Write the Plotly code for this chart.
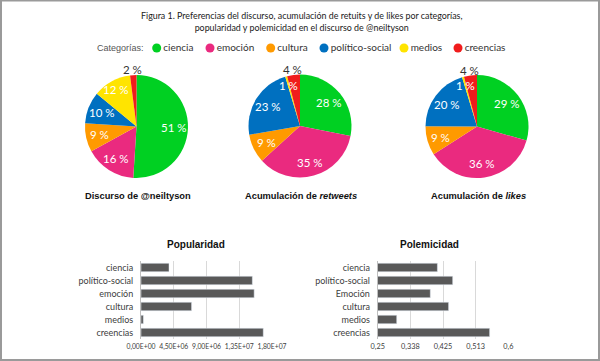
import math
import plotly.graph_objects as go

W, H = 600, 361

# ---- data ----
categories = ["ciencia", "emoción", "cultura", "político-social", "medios", "creencias"]
colors = ["#00d022", "#ea2a7f", "#ff9a00", "#0070c0", "#ffe400", "#f01c1c"]
discurso = [51, 16, 9, 10, 12, 2]
retweets = [28, 35, 9, 23, 0.6, 4]
likes = [29, 36, 9, 20, 0.6, 4]

pop_categories = ["ciencia", "político-social", "emoción", "cultura", "medios", "creencias"]
popularidad = [3.85e6, 15.3e6, 15.55e6, 6.95e6, 0.32e6, 16.8e6]
pop_tickvals = [0, 4.5e6, 9.0e6, 1.35e7, 1.8e7]
pop_ticktext = ["0,00E+00", "4,50E+06", "9,00E+06", "1,35E+07", "1,80E+07"]

pol_categories = ["ciencia", "político-social", "Emoción", "cultura", "medios", "creencias"]
polemicidad = [0.410, 0.451, 0.391, 0.440, 0.301, 0.550]
pol_tickvals = [0.25, 0.3375, 0.425, 0.5125, 0.6]
pol_ticktext = ["0,25", "0,338", "0,425", "0,513", "0,6"]

pie_titles = ["<b>Discurso de @neiltyson</b>",
              "<b>Acumulación de <i>retweets</i></b>",
              "<b>Acumulación de <i>likes</i></b>"]

# ---- layout helpers (pixel -> paper) ----
def px(x):
    return x / W

def py(y):
    return 1 - y / H

pie_centers = [(136.5, 126.5), (300, 126), (477, 126.5)]
R = 51.5
# label radius (fraction of pie radius) per category; creencias label sits outside
label_r = [0.73, 0.73, 0.73, 0.73, 0.82, 1.1]

fig = go.Figure()
annotations = []

for vals, (cx, cy) in zip([discurso, retweets, likes], pie_centers):
    fig.add_trace(go.Pie(
        labels=categories, values=vals, sort=False, direction="clockwise",
        rotation=0, marker=dict(colors=colors, line=dict(width=0)),
        textinfo="none",
        domain=dict(x=[px(cx - R), px(cx + R)], y=[py(cy + R), py(cy - R)]),
        showlegend=False, hoverinfo="label+percent",
    ))
    total = sum(vals)
    cum = 0
    for v, fr in zip(vals, label_r):
        mid = (cum + v / 2) / total * 2 * math.pi
        cum += v
        lx = cx + R * fr * math.sin(mid)
        ly = cy - R * fr * math.cos(mid)
        outside = fr > 1
        annotations.append(dict(
            text=f"{v:.0f} %", x=px(lx), y=py(ly),
            font=dict(family="Lato", size=11.5,
                      color="#333333" if outside else "white")))

bar_color = "#595959"
fig.add_trace(go.Bar(x=popularidad, y=pop_categories, orientation="h",
                     marker=dict(color=bar_color), xaxis="x", yaxis="y",
                     showlegend=False))
fig.add_trace(go.Bar(x=polemicidad, y=pol_categories, orientation="h",
                     marker=dict(color=bar_color), xaxis="x2", yaxis="y2",
                     showlegend=False, base=0))

# legend built as marker+text on an overlay axis
legend_x = [156.7, 210, 270.7, 324, 404, 458]
legend_y = [48] * 6
fig.add_trace(go.Scatter(
    x=legend_x, y=legend_y, mode="markers+text", text=categories,
    textposition="middle right",
    textfont=dict(family="Lato", size=10, color="#333333"),
    marker=dict(color=colors, size=9),
    xaxis="x3", yaxis="y3", showlegend=False, cliponaxis=False, hoverinfo="skip"))

band_top, band_bot = 261, 339
axis_font = dict(family="Lato", size=9, color="#404040")

common_x = dict(showgrid=True, gridcolor="#d9d9d9", gridwidth=1, zeroline=False,
                tickangle=0, automargin=False, ticks="", ticklabelstandoff=2)
common_y = dict(domain=[py(band_bot), py(band_top)], autorange="reversed",
                type="category", tickfont=axis_font, showline=True,
                linecolor="#bfbfbf", linewidth=1, ticks="", automargin=False,
                ticklabelstandoff=5)

fig.update_layout(
    width=W, height=H, autosize=False,
    margin=dict(l=0, r=0, t=0, b=0, pad=0),
    paper_bgcolor="white", plot_bgcolor="rgba(0,0,0,0)",
    bargap=0.35, showlegend=False,
    xaxis=dict(domain=[px(141), px(272)], range=[0, 1.8e7],
               tickvals=pop_tickvals, ticktext=pop_ticktext, anchor="y",
               tickfont=dict(family="Lato", size=6.8, color="#404040"), **common_x),
    yaxis=dict(anchor="x", **common_y),
    xaxis2=dict(domain=[px(377.7), px(508.3)], range=[0.25, 0.6],
                tickvals=pol_tickvals, ticktext=pol_ticktext, anchor="y2",
                tickfont=dict(family="Lato", size=7.3, color="#404040"), **common_x),
    yaxis2=dict(anchor="x2", **common_y),
    xaxis3=dict(domain=[0, 1], range=[0, W], visible=False, anchor="y3",
                automargin=False),
    yaxis3=dict(domain=[0, 1], range=[H, 0], visible=False, anchor="x3",
                automargin=False),
)

annotations += [
    dict(text="Figura 1. Preferencias del discurso, acumulación de retuits y de likes por categorías,<br>"
              "popularidad y polemicidad en el discurso de @neiltyson",
         x=px(301), y=py(21.5), font=dict(family="Lato", size=8.9, color="#1a1a1a")),
    dict(text="Categorías:", x=px(95), y=py(48), xanchor="left",
         font=dict(family="Liberation Sans", size=9, color="#555555")),
    dict(text="<b>Popularidad</b>", x=px(196), y=py(245),
         font=dict(family="Liberation Sans", size=10, color="#111111")),
    dict(text="<b>Polemicidad</b>", x=px(429), y=py(245),
         font=dict(family="Liberation Sans", size=10, color="#111111")),
]
for t, (cx, cy) in zip(pie_titles, pie_centers):
    annotations.append(dict(text=t, x=px(cx + 1), y=py(195.5),
                            font=dict(family="Liberation Sans", size=9.3, color="#111111")))
for a in annotations:
    a.update(xref="paper", yref="paper", showarrow=False)
    a.setdefault("xanchor", "center")
    a.setdefault("yanchor", "middle")
fig.update_layout(annotations=annotations)

fig.add_shape(type="rect", xref="paper", yref="paper",
              x0=px(1), x1=px(599), y0=py(360), y1=py(0.5),
              line=dict(color="#9a9a9a", width=2), layer="above")

fig.write_html("out.html", config={"displayModeBar": False},
               post_script="document.body.style.margin='0';document.body.style.overflow='hidden';")
